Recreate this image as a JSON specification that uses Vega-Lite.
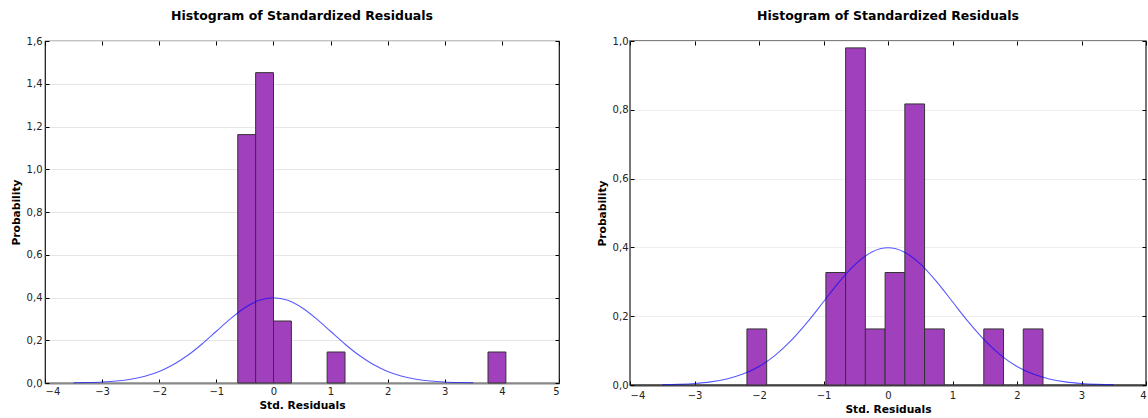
{
  "$schema": "https://vega.github.io/schema/vega-lite/v6.json",
  "padding": {"left": 9, "top": 8, "right": 0, "bottom": 0},
  "config": {
    "font": "DejaVu Sans",
    "axis": {
      "labelFont": "DejaVu Sans", "labelFontSize": 10, "labelColor": "#222",
      "titleFont": "DejaVu Sans", "titleFontSize": 10.7, "titleFontWeight": "bold", "titleColor": "black",
      "tickColor": "black", "tickSize": -4, "labelPadding": 7, "titlePadding": 5,
      "domain": false, "grid": false
    },
    "title": {"font": "DejaVu Sans", "fontSize": 12.5, "fontWeight": "bold", "color": "black", "offset": 14}
  },
  "datasets": {
    "left_bins": [
      {"x0": -0.625, "x1": -0.312, "density": 1.162},
      {"x0": -0.312, "x1": 0.001, "density": 1.452},
      {"x0": 0.001, "x1": 0.314, "density": 0.290},
      {"x0": 0.940, "x1": 1.253, "density": 0.145},
      {"x0": 3.757, "x1": 4.070, "density": 0.145}
    ],
    "right_bins": [
      {"x0": -2.187, "x1": -1.881, "density": 0.163},
      {"x0": -0.963, "x1": -0.657, "density": 0.327},
      {"x0": -0.657, "x1": -0.351, "density": 0.980},
      {"x0": -0.351, "x1": -0.045, "density": 0.163},
      {"x0": -0.045, "x1": 0.261, "density": 0.327},
      {"x0": 0.261, "x1": 0.567, "density": 0.817},
      {"x0": 0.567, "x1": 0.873, "density": 0.163},
      {"x0": 1.485, "x1": 1.791, "density": 0.163},
      {"x0": 2.097, "x1": 2.403, "density": 0.163}
    ],
    "curve": [
      {"x": -3.5, "pdf": 0.00087}, {"x": -3.25, "pdf": 0.00203}, {"x": -3.0, "pdf": 0.00443},
      {"x": -2.75, "pdf": 0.00909}, {"x": -2.5, "pdf": 0.01753}, {"x": -2.25, "pdf": 0.03174},
      {"x": -2.0, "pdf": 0.05399}, {"x": -1.75, "pdf": 0.08628}, {"x": -1.5, "pdf": 0.12952},
      {"x": -1.25, "pdf": 0.18265}, {"x": -1.0, "pdf": 0.24197}, {"x": -0.75, "pdf": 0.30114},
      {"x": -0.5, "pdf": 0.35207}, {"x": -0.25, "pdf": 0.38667}, {"x": 0.0, "pdf": 0.39894},
      {"x": 0.25, "pdf": 0.38667}, {"x": 0.5, "pdf": 0.35207}, {"x": 0.75, "pdf": 0.30114},
      {"x": 1.0, "pdf": 0.24197}, {"x": 1.25, "pdf": 0.18265}, {"x": 1.5, "pdf": 0.12952},
      {"x": 1.75, "pdf": 0.08628}, {"x": 2.0, "pdf": 0.05399}, {"x": 2.25, "pdf": 0.03174},
      {"x": 2.5, "pdf": 0.01753}, {"x": 2.75, "pdf": 0.00909}, {"x": 3.0, "pdf": 0.00443},
      {"x": 3.25, "pdf": 0.00203}, {"x": 3.5, "pdf": 0.00087}
    ]
  },
  "spacing": 34,
  "hconcat": [
    {
      "title": "Histogram of Standardized Residuals",
      "width": 514, "height": 342,
      "view": {"stroke": "#111", "strokeWidth": 1.2},
      "layer": [
        {
          "data": {"name": "left_bins"},
          "mark": {"type": "bar", "fill": "#A040BC", "stroke": "#333", "strokeWidth": 1},
          "encoding": {
            "x": {"field": "x0", "type": "quantitative",
              "scale": {"domain": [-4, 5], "nice": false, "zero": false},
              "axis": {"orient": "bottom", "title": "Std. Residuals", "values": [-4, -3, -2, -1, 0, 1, 2, 3, 4, 5],
                "labelExpr": "datum.value < 0 ? '−' + (-datum.value) : '' + datum.value",
                "domain": true, "domainColor": "#888", "domainWidth": 2, "titlePadding": 4}},
            "x2": {"field": "x1"},
            "y": {"field": "density", "type": "quantitative",
              "scale": {"domain": [0, 1.6], "nice": false, "zero": true},
              "axis": {"orient": "left", "title": "Probability", "values": [0, 0.2, 0.4, 0.6, 0.8, 1.0, 1.2, 1.4, 1.6],
                "grid": true, "gridColor": "#e6e6e6", "gridWidth": 1,
                "labelExpr": "replace(format(datum.value, '.1f'), '.', ',')"}},
            "y2": {"datum": 0}
          }
        },
        {
          "data": {"name": "curve"},
          "mark": {"type": "line", "color": "#0000ff", "opacity": 0.65, "strokeWidth": 1.1, "interpolate": "monotone"},
          "encoding": {
            "x": {"field": "x", "type": "quantitative",
              "axis": {"orient": "top", "labels": false, "title": null, "values": [-4, -3, -2, -1, 0, 1, 2, 3, 4, 5]}},
            "y": {"field": "pdf", "type": "quantitative",
              "axis": {"orient": "right", "labels": false, "title": null, "values": [0, 0.2, 0.4, 0.6, 0.8, 1.0, 1.2, 1.4, 1.6]}}
          }
        }
      ],
      "resolve": {"axis": {"x": "independent", "y": "independent"}}
    },
    {
      "title": "Histogram of Standardized Residuals",
      "width": 516, "height": 344,
      "view": {"stroke": "#555", "strokeWidth": 1.6},
      "layer": [
        {
          "data": {"name": "right_bins"},
          "mark": {"type": "bar", "fill": "#A040BC", "stroke": "#333", "strokeWidth": 1},
          "encoding": {
            "x": {"field": "x0", "type": "quantitative",
              "scale": {"domain": [-4, 4], "nice": false, "zero": false},
              "axis": {"orient": "bottom", "title": "Std. Residuals", "values": [-4, -3, -2, -1, 0, 1, 2, 3, 4],
                "labelExpr": "datum.value < 0 ? '−' + (-datum.value) : '' + datum.value",
                "domain": true, "domainColor": "#444", "domainWidth": 2, "labelPadding": 9, "titlePadding": 4}},
            "x2": {"field": "x1"},
            "y": {"field": "density", "type": "quantitative",
              "scale": {"domain": [0, 1.0], "nice": false, "zero": true},
              "axis": {"orient": "left", "title": "Probability", "values": [0, 0.2, 0.4, 0.6, 0.8, 1.0],
                "grid": true, "gridColor": "#eeeeee", "gridWidth": 1, "labelPadding": 6,
                "labelExpr": "replace(format(datum.value, '.1f'), '.', ',')"}},
            "y2": {"datum": 0}
          }
        },
        {
          "data": {"name": "curve"},
          "mark": {"type": "line", "color": "#0000ff", "opacity": 0.65, "strokeWidth": 1.1, "interpolate": "monotone"},
          "encoding": {
            "x": {"field": "x", "type": "quantitative",
              "axis": {"orient": "top", "labels": false, "title": null, "values": [-4, -3, -2, -1, 0, 1, 2, 3, 4]}},
            "y": {"field": "pdf", "type": "quantitative",
              "axis": {"orient": "right", "labels": false, "title": null, "values": [0, 0.2, 0.4, 0.6, 0.8, 1.0]}}
          }
        }
      ],
      "resolve": {"axis": {"x": "independent", "y": "independent"}}
    }
  ]
}
